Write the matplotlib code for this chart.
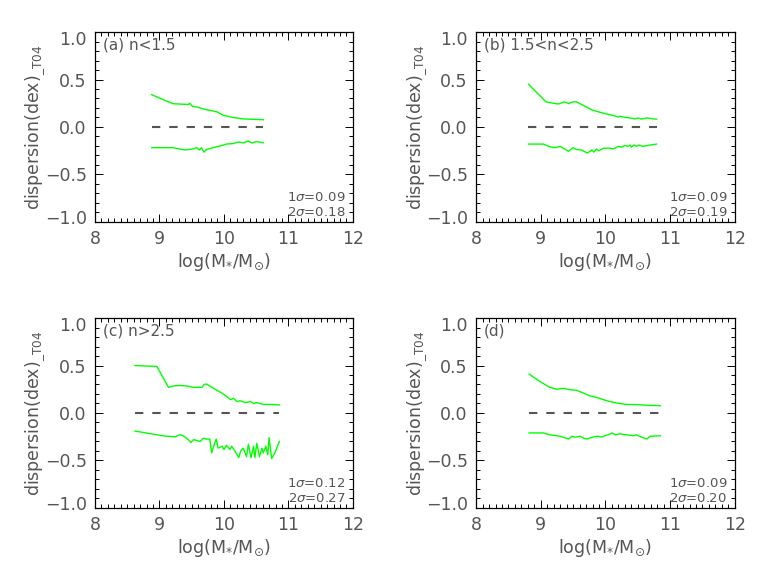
"""Dispersion of mass residuals vs stellar mass, four Sersic-index bins."""

import matplotlib

matplotlib.use("Agg")
import matplotlib.pyplot as plt  # noqa: E402
from matplotlib.ticker import MultipleLocator  # noqa: E402
from matplotlib.transforms import ScaledTranslation  # noqa: E402

# panel (a) n<1.5
a_up_x = [8.88, 9.21, 9.45, 9.47, 9.51, 9.60, 9.68, 9.78, 9.89, 9.99, 10.14, 10.30, 10.61]
a_up_y = [0.34, 0.245, 0.237, 0.25, 0.218, 0.208, 0.19, 0.175, 0.16, 0.123, 0.10, 0.085, 0.076]
a_lo_x = [8.88, 9.21, 9.39, 9.52, 9.58, 9.62, 9.65, 9.69, 9.73, 9.83, 9.94, 10.04,
          10.14, 10.22, 10.30, 10.38, 10.43, 10.51, 10.61]
a_lo_y = [-0.218, -0.218, -0.242, -0.232, -0.218, -0.242, -0.218, -0.265, -0.237, -0.218,
          -0.20, -0.18, -0.175, -0.158, -0.168, -0.147, -0.168, -0.154, -0.166]

# panel (b) 1.5<n<2.5
b_up_x = [8.81, 9.08, 9.14, 9.27, 9.37, 9.43, 9.50, 9.55, 9.66, 9.79, 9.91, 10.02,
          10.12, 10.20, 10.22, 10.28, 10.38, 10.46, 10.50, 10.56, 10.64, 10.74, 10.79]
b_up_y = [0.45, 0.265, 0.256, 0.242, 0.265, 0.246, 0.265, 0.265, 0.227, 0.18, 0.156,
          0.137, 0.121, 0.104, 0.114, 0.104, 0.095, 0.085, 0.095, 0.083, 0.095, 0.085,
          0.083]
b_lo_x = [8.81, 9.04, 9.14, 9.22, 9.30, 9.43, 9.50, 9.55, 9.63, 9.72, 9.79, 9.82,
          9.86, 9.90, 9.97, 10.07, 10.12, 10.20, 10.25, 10.30, 10.35, 10.38, 10.40,
          10.44, 10.48, 10.52, 10.58, 10.69, 10.79]
b_lo_y = [-0.18, -0.18, -0.208, -0.218, -0.204, -0.256, -0.218, -0.237, -0.242, -0.275,
          -0.242, -0.265, -0.232, -0.251, -0.223, -0.223, -0.232, -0.204, -0.213,
          -0.194, -0.204, -0.19, -0.213, -0.19, -0.204, -0.19, -0.204, -0.19, -0.18]

# panel (c) n>2.5
c_up_x = [8.62, 8.96, 9.14, 9.22, 9.32, 9.42, 9.53, 9.66, 9.69, 9.73, 9.79, 9.84,
          9.94, 9.99, 10.04, 10.10, 10.15, 10.20, 10.25, 10.33, 10.41, 10.46, 10.51,
          10.61, 10.72, 10.86]
c_up_y = [0.50, 0.49, 0.27, 0.285, 0.29, 0.285, 0.27, 0.27, 0.30, 0.305, 0.28, 0.26,
          0.22, 0.20, 0.175, 0.14, 0.155, 0.12, 0.13, 0.11, 0.12, 0.10, 0.11, 0.09,
          0.09, 0.085]
c_lo_x = [8.62, 8.96, 9.11, 9.24, 9.32, 9.37, 9.42, 9.49, 9.53, 9.63, 9.68, 9.73,
          9.78, 9.81, 9.84, 9.88, 9.91, 9.97, 10.00, 10.04, 10.09, 10.12, 10.17, 10.23,
          10.26, 10.30, 10.35, 10.38, 10.42, 10.46, 10.48, 10.51, 10.55, 10.59, 10.61,
          10.65, 10.68, 10.70, 10.74, 10.79, 10.86]
c_lo_y = [-0.19, -0.23, -0.245, -0.25, -0.23, -0.24, -0.265, -0.31, -0.28, -0.30,
          -0.265, -0.275, -0.275, -0.42, -0.35, -0.275, -0.37, -0.35, -0.385, -0.34,
          -0.385, -0.35, -0.40, -0.47, -0.40, -0.37, -0.46, -0.33, -0.47, -0.35,
          -0.47, -0.32, -0.46, -0.37, -0.42, -0.35, -0.44, -0.26, -0.48, -0.42, -0.30]

# panel (d) all
d_up_x = [8.82, 8.99, 9.14, 9.25, 9.35, 9.45, 9.55, 9.66, 9.76, 9.86, 9.97, 10.07,
          10.17, 10.33, 10.48, 10.69, 10.85]
d_up_y = [0.41, 0.33, 0.27, 0.25, 0.26, 0.245, 0.24, 0.21, 0.18, 0.165, 0.14, 0.12,
          0.105, 0.09, 0.088, 0.08, 0.077]
d_lo_x = [8.82, 9.04, 9.14, 9.30, 9.43, 9.48, 9.53, 9.61, 9.66, 9.71, 9.82, 9.89,
          9.94, 9.99, 10.04, 10.10, 10.15, 10.22, 10.33, 10.43, 10.48, 10.56, 10.64,
          10.69, 10.85]
d_lo_y = [-0.21, -0.21, -0.23, -0.245, -0.275, -0.245, -0.255, -0.245, -0.265,
          -0.275, -0.25, -0.245, -0.255, -0.24, -0.23, -0.21, -0.23, -0.22, -0.23,
          -0.24, -0.23, -0.255, -0.275, -0.245, -0.24]

labels = ["(a) n<1.5", "(b) 1.5<n<2.5", "(c) n>2.5", "(d)"]
sigma1 = ["0.09", "0.09", "0.12", "0.09"]
sigma2 = ["0.18", "0.19", "0.27", "0.20"]

panels = [
    (a_up_x, a_up_y, a_lo_x, a_lo_y),
    (b_up_x, b_up_y, b_lo_x, b_lo_y),
    (c_up_x, c_up_y, c_lo_x, c_lo_y),
    (d_up_x, d_up_y, d_lo_x, d_lo_y),
]

TXT = "#555555"
plt.rcParams["font.family"] = "DejaVu Sans"

fig = plt.figure(figsize=(7.63, 5.72), dpi=100)
boxes = [
    [0.1245, 0.612, 0.338, 0.332],
    [0.624, 0.612, 0.339, 0.332],
    [0.1245, 0.112, 0.338, 0.332],
    [0.624, 0.112, 0.339, 0.332],
]

for box, (ux, uy, lx, ly), lab, s1, s2 in zip(boxes, panels, labels, sigma1, sigma2):
    ax = fig.add_axes(box)
    ax.plot(ux, uy, color="#00ff00", linewidth=1.0)
    ax.plot(lx, ly, color="#00ff00", linewidth=1.0)
    ax.plot([ux[0], ux[-1]], [0, 0], color="#555555", linewidth=1.5,
            linestyle=(0, (4.0, 4.3)))

    ax.set_xlim(8, 12)
    ax.set_ylim(-1.0, 1.0)
    ax.xaxis.set_major_locator(MultipleLocator(1))
    ax.xaxis.set_minor_locator(MultipleLocator(0.1))
    ax.yaxis.set_major_locator(MultipleLocator(0.5))
    ax.yaxis.set_minor_locator(MultipleLocator(0.1))
    ax.tick_params(which="both", direction="in", top=True, right=True,
                   labelsize=12.5, labelcolor=TXT, width=0.7)
    ax.tick_params(which="major", length=6, pad=6)
    ax.tick_params(which="minor", length=3)
    for sp in ax.spines.values():
        sp.set_linewidth(0.9)

    # nudge the end labels (+-1.0) inward, as the original plot does
    locs = ax.yaxis.get_majorticklocs()
    for loc, tick in zip(locs, ax.yaxis.get_major_ticks(len(locs))):
        if abs(loc) > 0.99:
            dy = -6 / 100 if loc > 0 else 5 / 100
            tick.label1.set_transform(tick.label1.get_transform()
                                      + ScaledTranslation(0, dy, fig.dpi_scale_trans))

    ax.set_xlabel(r"log(M$_{*}$/M$_{\odot}$)", fontsize=12.5, color=TXT, labelpad=2)
    ax.set_ylabel(r"dispersion(dex)$_{\_\mathrm{T04}}$", fontsize=12.5, color=TXT,
                  labelpad=-2)

    ax.text(0.03, 0.93, lab, transform=ax.transAxes, ha="left", va="center",
            fontsize=11, color=TXT)
    ax.text(0.97, 0.128, rf"1$\sigma$={s1}", transform=ax.transAxes,
            ha="right", va="center", fontsize=9.5, color=TXT)
    ax.text(0.97, 0.050, rf"2$\sigma$={s2}", transform=ax.transAxes,
            ha="right", va="center", fontsize=9.5, color=TXT)

fig.savefig("out.png", dpi=100)
plt.close(fig)
